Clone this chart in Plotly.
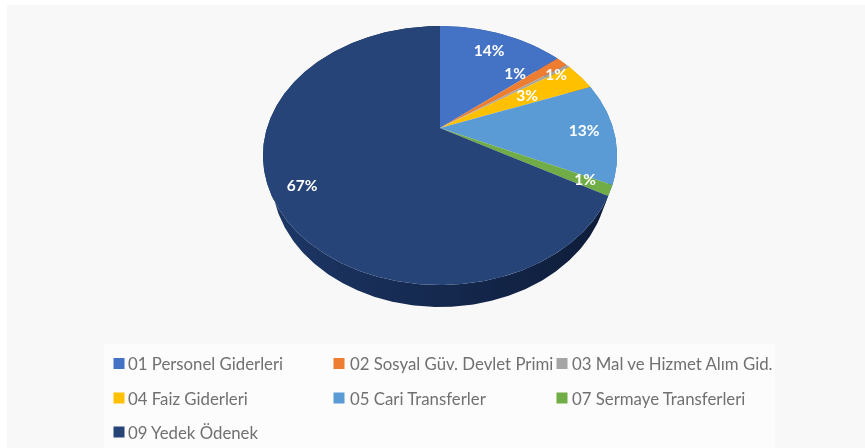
import numpy as np
import plotly.graph_objects as go

# ---- data ----
CATEGORIES = ["01 Personel Giderleri", "02 Sosyal Güv. Devlet Primi", "03 Mal ve Hizmet Alım Gid.",
              "04 Faiz Giderleri", "05 Cari Transferler", "07 Sermaye Transferleri", "09 Yedek Ödenek"]
VALUES = [14.0, 1.3, 0.4, 3.5, 12.7, 1.3, 66.8]
LABELS = ["14%", "1%", "1%", "3%", "13%", "1%", "67%"]

# ---- styling / layout ----
COLORS = ["#4472C4", "#ED7D31", "#A5A5A5", "#FFC000", "#5B9BD5", "#70AD47", "#264478"]
WALLS = ["#2F5597", "#AE5A21", "#7B7B7B", "#BF9000", "#2E75B6", "#3f6b28", "#16294D"]
LABEL_XY = [(489, 52), (515, 75), (556, 76), (527, 97), (584, 132), (585, 181), (302, 187)]
LEGEND_KEY_X = [119, 339, 562]
LEGEND_TEXT_X = [127, 349, 571]
LEGEND_ROW = [363.5, 398, 432]
LEGEND_SLOT = [(0, 0), (1, 0), (2, 0), (0, 1), (1, 1), (2, 1), (0, 2)]
FONT = "Lato, 'Open Sans', sans-serif"
W, H = 865, 448

# projection of the tilted pie disc on the page
APEX_X, APEX_Y = 440.0, 128.0
HALF_W, TILT, PERSP = 173.0, -96.48, 0.2124
DEPTH, FOOT_SCALE = 22.0, 0.95


def project(frac):
    a = 2 * np.pi * np.asarray(frac)
    u, v = np.sin(a), np.cos(a)
    den = 1 + PERSP * v
    return APEX_X + HALF_W * u / den, (APEX_Y + TILT * v) / den


fig = go.Figure()
edges = np.cumsum([0] + VALUES) / sum(VALUES)

# side wall first, so the top face covers its hidden part
for i, name in enumerate(CATEGORIES):
    t = np.linspace(edges[i], edges[i + 1], max(3, int(VALUES[i] * 6)))
    x, y = project(t)
    foot_x = APEX_X + (x - APEX_X) * FOOT_SCALE
    style = dict(fillcolor=WALLS[i])
    if i == len(CATEGORIES) - 1:
        style = dict(fillgradient=dict(type="horizontal",
                                       colorscale=[[0, "#1d3766"], [0.5, "#15294f"], [1, "#0e1c38"]]))
    fig.add_trace(go.Scatter(
        x=np.r_[x, foot_x[::-1]], y=np.r_[y, y[::-1] + DEPTH], mode="lines", fill="toself",
        line=dict(width=0), hoverinfo="skip", showlegend=False, **style))

# top face
for i, name in enumerate(CATEGORIES):
    t = np.linspace(edges[i], edges[i + 1], max(3, int(VALUES[i] * 6)))
    x, y = project(t)
    fig.add_trace(go.Scatter(
        x=np.r_[APEX_X, x, APEX_X], y=np.r_[APEX_Y, y, APEX_Y], mode="lines", fill="toself",
        fillcolor=COLORS[i], line=dict(width=0), name=name, text=LABELS[i], hoverinfo="name+text",
        showlegend=False))

# percentage labels
fig.add_trace(go.Scatter(
    x=[p[0] for p in LABEL_XY], y=[p[1] for p in LABEL_XY], mode="text", text=LABELS,
    textfont=dict(family=FONT, size=15.5, color="white", weight="bold"),
    textposition="middle center", hoverinfo="skip", showlegend=False))

# legend keys and names
for i, name in enumerate(CATEGORIES):
    c, r = LEGEND_SLOT[i]
    fig.add_trace(go.Scatter(
        x=[LEGEND_KEY_X[c]], y=[LEGEND_ROW[r]], mode="markers", hoverinfo="skip", showlegend=False,
        marker=dict(symbol="square", size=11, color=COLORS[i])))
    fig.add_annotation(x=LEGEND_TEXT_X[c], y=LEGEND_ROW[r], text=name, showarrow=False, xanchor="left",
                       borderpad=0, font=dict(family=FONT, size=16.8, color="#707070"))

fig.update_layout(
    width=W, height=H, margin=dict(l=0, r=0, t=0, b=0),
    paper_bgcolor="white", plot_bgcolor="white",
    xaxis=dict(range=[0, W], visible=False, fixedrange=True),
    yaxis=dict(range=[H, 0], visible=False, fixedrange=True),
    shapes=[
        dict(type="rect", xref="x", yref="y", x0=7, x1=W, y0=5, y1=H,
             fillcolor="#f8f8f8", line=dict(width=0), layer="below"),
        dict(type="rect", xref="x", yref="y", x0=104, x1=775, y0=344, y1=H,
             fillcolor="#fcfcfc", line=dict(width=0), layer="below"),
    ],
)
fig.write_html("out.html", config=dict(displayModeBar=False),
               post_script="document.body.style.margin='0';document.body.style.filter='blur(0.6px)';")
